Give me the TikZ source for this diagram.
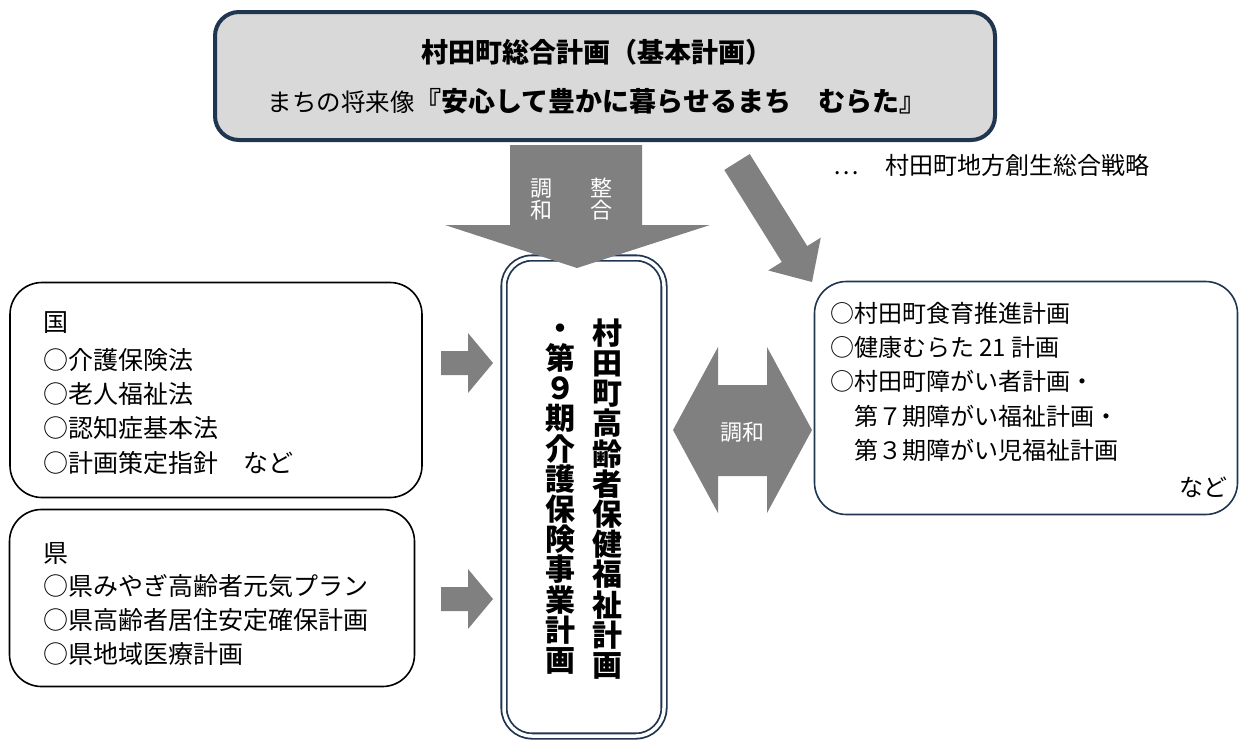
\documentclass[tikz,border=0pt]{standalone}
\usepackage{fontspec}
\setmainfont{Noto Sans CJK JP}
\usetikzlibrary{calc,shadows}

\definecolor{frameblue}{HTML}{1F3550}
\definecolor{arrowgray}{HTML}{808080}
\definecolor{headgray}{HTML}{D9D9D9}

\begin{document}
\begin{tikzpicture}[x=1pt, y=-1pt,
    planbox/.style={rectangle, draw=black, line width=1.6pt, rounded corners=32pt},
    blockarrow/.style={fill=arrowgray, draw=none},
    item/.style={anchor=west, inner sep=0pt, font=\fontsize{25}{25}\selectfont},
    ritem/.style={anchor=west, inner sep=0pt, font=\fontsize{24}{24}\selectfont},
    arrowtext/.style={inner sep=0pt, text=white, font=\fontsize{22}{22}\selectfont},
    tate/.style={inner sep=0pt, align=center, font=\bfseries\fontsize{30}{30.2}\selectfont}]

\useasboundingbox (0,0) rectangle (1240,740);

% top plan
\node[rectangle, draw=frameblue, fill=headgray, line width=4pt, rounded corners=24pt,
      minimum width=780, minimum height=128] (plan) at (605,76) {};
\node[inner sep=0pt, font=\bfseries\fontsize{27}{27}\selectfont] (plantitle) at (597,52) {村田町総合計画（基本計画）};
\node[inner sep=0pt] (vision) at (597,101)
    {{\fontsize{24.5}{25}\selectfont まちの将来像}{\bfseries\fontsize{27}{27}\selectfont 『安心して豊かに暮らせるまち　むらた』}};

\node[anchor=west, inner sep=0pt, font=\fontsize{24}{24}\selectfont] (strategy) at (833,165) {…\hspace{1.1em}村田町地方創生総合戦略};

% main plan
\node[rectangle, draw=frameblue, fill=white, double=white, double distance=3.5pt, line width=1.8pt,
      rounded corners=28pt, minimum width=160, minimum height=478,
      drop shadow={shadow xshift=3pt, shadow yshift=-2pt, opacity=0.25}] (mainplan) at (584,497) {};
\node[tate] (maincol) at (607,499) {村\\田\\町\\高\\齢\\者\\保\\健\\福\\祉\\計\\画};
\node[tate] (subcol) at (560,499) {・\\第\\９\\期\\介\\護\\保\\険\\事\\業\\計\\画};

% arrows
\fill[blockarrow] (510,145) -- (642,145) -- (642,225) -- (710,225) -- (577,268)
    -- (445,225) -- (510,225) -- cycle;
\node[arrowtext, align=center] (wago) at (541,199) {調\\和};
\node[arrowtext, align=center] (seigo) at (601,199) {整\\合};

\coordinate (dtail) at (737,162);
\coordinate (dtip) at (812,282);
\coordinate (dbase) at ($(dtip)!33pt!(dtail)$);
\fill[blockarrow] ($(dtail)!15pt!90:(dtip)$) -- ($(dbase)!15pt!-90:(dtail)$)
    -- ($(dbase)!31pt!-90:(dtail)$) -- (dtip) -- ($(dbase)!31pt!90:(dtail)$)
    -- ($(dbase)!15pt!90:(dtail)$) -- ($(dtail)!15pt!-90:(dtip)$) -- cycle;

\fill[blockarrow] (673,430) -- (718,347) -- (718,385) -- (767,385) -- (767,347) -- (812,430)
    -- (767,513) -- (767,476) -- (718,476) -- (718,513) -- cycle;
\node[arrowtext] (chowa) at (742,432) {調和};

\fill[blockarrow] (441,351) -- (468,351) -- (468,333) -- (493,363) -- (468,393) -- (468,375)
    -- (441,375) -- cycle;
\fill[blockarrow] (441,587) -- (468,587) -- (468,569) -- (493,599) -- (468,629) -- (468,611)
    -- (441,611) -- cycle;

% related plans
\node[planbox, draw=frameblue, minimum width=423, minimum height=233] (related) at (1026,398) {};
\node[ritem] (rel1) at (830,313) {○村田町食育推進計画};
\node[ritem] (rel2) at (830,347) {○健康むらた 21 計画};
\node[ritem] (rel3) at (830,381) {○村田町障がい者計画・};
\node[ritem] (rel4) at (830,416) {\hspace{1em}第７期障がい福祉計画・};
\node[ritem] (rel5) at (830,450) {\hspace{1em}第３期障がい児福祉計画};
\node[ritem, anchor=east] (rel6) at (1228,487) {など};

% national / prefecture
\node[planbox, minimum width=412, minimum height=215] (kuni) at (216,390) {};
\node[item] (kuni0) at (43,323) {国};
\node[item] (kuni1) at (43,360) {○介護保険法};
\node[item] (kuni2) at (43,394) {○老人福祉法};
\node[item] (kuni3) at (43,428) {○認知症基本法};
\node[item] (kuni4) at (43,463) {○計画策定指針\hspace{1em}など};

\node[planbox, minimum width=405, minimum height=177] (ken) at (212,598) {};
\node[item] (ken0) at (43,553) {県};
\node[item] (ken1) at (43,586) {○県みやぎ高齢者元気プラン};
\node[item] (ken2) at (43,620) {○県高齢者居住安定確保計画};
\node[item] (ken3) at (43,654) {○県地域医療計画};

\end{tikzpicture}
\end{document}
